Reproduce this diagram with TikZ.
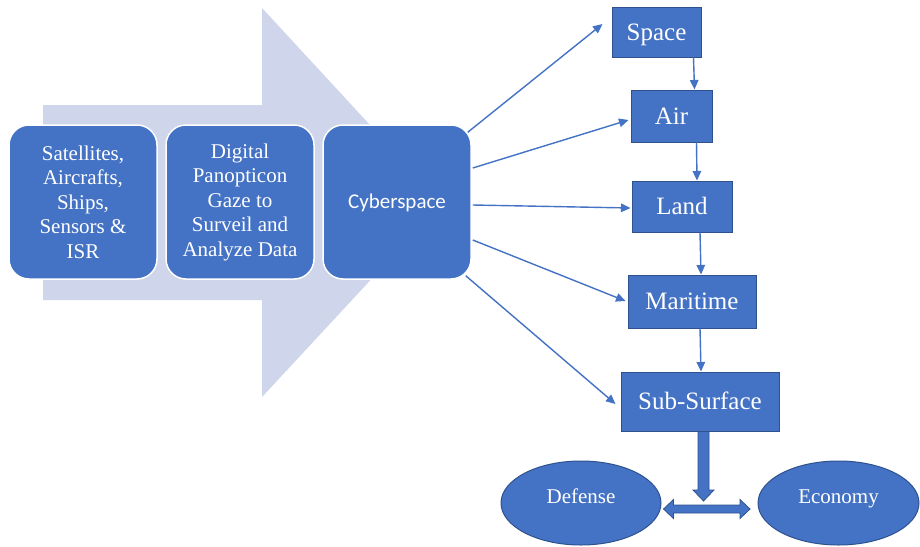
\documentclass[tikz,border=0pt]{standalone}
\usepackage{fontspec}
\setmainfont{Liberation Serif}
\newfontfamily\calib{Carlito}
\usetikzlibrary{arrows.meta,shapes.geometric,calc}
\definecolor{mblue}{HTML}{4472C4}
\definecolor{dblue}{HTML}{2F528F}
\definecolor{lblue}{HTML}{CFD5EA}
\begin{document}
\begin{tikzpicture}[x=1pt,y=-1pt,
  rbox/.style={rectangle,rounded corners=20pt,fill=mblue,draw=white,line width=1.5pt,
    minimum width=148pt,minimum height=154pt,text=white,align=center,inner sep=2pt,
    font=\fontsize{21}{24.5}\selectfont},
  dbox/.style={rectangle,fill=mblue,draw=dblue,line width=1pt,text=white,
    inner sep=0pt,text height=16.5pt,text depth=0pt,font=\fontsize{25}{28}\selectfont},
  ell/.style={ellipse,fill=mblue,draw=dblue,line width=1pt,text=white,inner sep=0pt,
    text height=14pt,text depth=14pt,
    minimum width=160pt,minimum height=84pt,font=\fontsize{21}{24}\selectfont},
  conn/.style={draw=mblue,line width=1.4pt,-{Triangle[length=9.5pt,width=8.5pt]}},
  blk/.style={fill=mblue,draw=dblue,line width=0.8pt,line join=miter}]
\useasboundingbox (0,0) rectangle (920,546);
\fill[white] (0,0) rectangle (920,546);
% big background arrow
\fill[lblue] (43,105) -- (262,105) -- (262,8) -- (442,203) -- (262,397) -- (262,300) -- (43,300) -- cycle;
% left boxes
\node[rbox] (sat) at (83,202) {Satellites,\\Aircrafts,\\Ships,\\Sensors \&\\ISR};
\node[rbox] (dig) at (240,202) {Digital\\Panopticon\\Gaze to\\Surveil and\\Analyze Data};
\node[rbox,font=\calib\fontsize{21}{24}\selectfont,text height=13.5pt,text depth=0pt] (cyber) at (397,202) {Cyberspace};
% right boxes
\node[dbox,minimum width=89pt,minimum height=50pt] (space) at (656.5,32) {Space};
\node[dbox,minimum width=81pt,minimum height=52pt] (air) at (671.5,116) {Air};
\node[dbox,minimum width=100pt,minimum height=51pt] (land) at (682,206.5) {Land};
\node[dbox,minimum width=128pt,minimum height=53pt] (mar) at (692,301.5) {Maritime};
\node[dbox,minimum width=158pt,minimum height=59pt] (sub) at (700,401.5) {Sub-Surface};
% ellipses
\node[ell] (def) at (581,503) {Defense};
\node[ell,minimum width=161pt] (eco) at (838.5,503) {Economy};
% connectors from cyberspace
\draw[conn] ([shift={(-4,8)}]cyber.north east) -- ([shift={(-9,-8)}]space.west);
\draw[conn] ([shift={(1,-34)}]cyber.east) -- ([shift={(-2,4)}]air.west);
\draw[conn] ([shift={(1,3)}]cyber.east) -- ([shift={(-1,1.5)}]land.west);
\draw[conn] ([shift={(1,38)}]cyber.east) -- ([shift={(-2,-0.5)}]mar.west);
\draw[conn] ([shift={(-6,-4)}]cyber.south east) -- ([shift={(-5,2.5)}]sub.west);
% vertical chain
\draw[conn] ([shift={(-8,0)}]space.south east) -- ([shift={(-18,0)}]air.north east);
\draw[conn] ([shift={(-16,0)}]air.south east) -- ([shift={(15,0)}]land.north);
\draw[conn] ([shift={(18,0)}]land.south) -- ([shift={(9,0)}]mar.north);
\draw[conn] ([shift={(8,0)}]mar.south) -- ([shift={(1,0)}]sub.north);
% block arrow down from Sub-Surface
\coordinate (dtop) at ([shift={(3.5,0)}]sub.south);
\path[blk] ($(dtop)+(-5.5,0)$) -- ($(dtop)+(5.5,0)$) -- ($(dtop)+(5.5,58.5)$) -- ($(dtop)+(10.5,58.5)$)
  -- ($(dtop)+(0,69.5)$) -- ($(dtop)+(-10.5,58.5)$) -- ($(dtop)+(-5.5,58.5)$) -- cycle;
% double block arrow between Defense and Economy
\coordinate (lt) at ([shift={(2,6)}]def.east);
\coordinate (rt) at ([shift={(-7.5,6)}]eco.west);
\path[blk] (lt) -- ($(lt)+(10,-9.5)$) -- ($(lt)+(10,-4)$) -- ($(rt)+(-10,-4)$) -- ($(rt)+(-10,-9.5)$)
  -- (rt) -- ($(rt)+(-10,9.5)$) -- ($(rt)+(-10,4)$) -- ($(lt)+(10,4)$) -- ($(lt)+(10,9.5)$) -- cycle;
\end{tikzpicture}
\end{document}
